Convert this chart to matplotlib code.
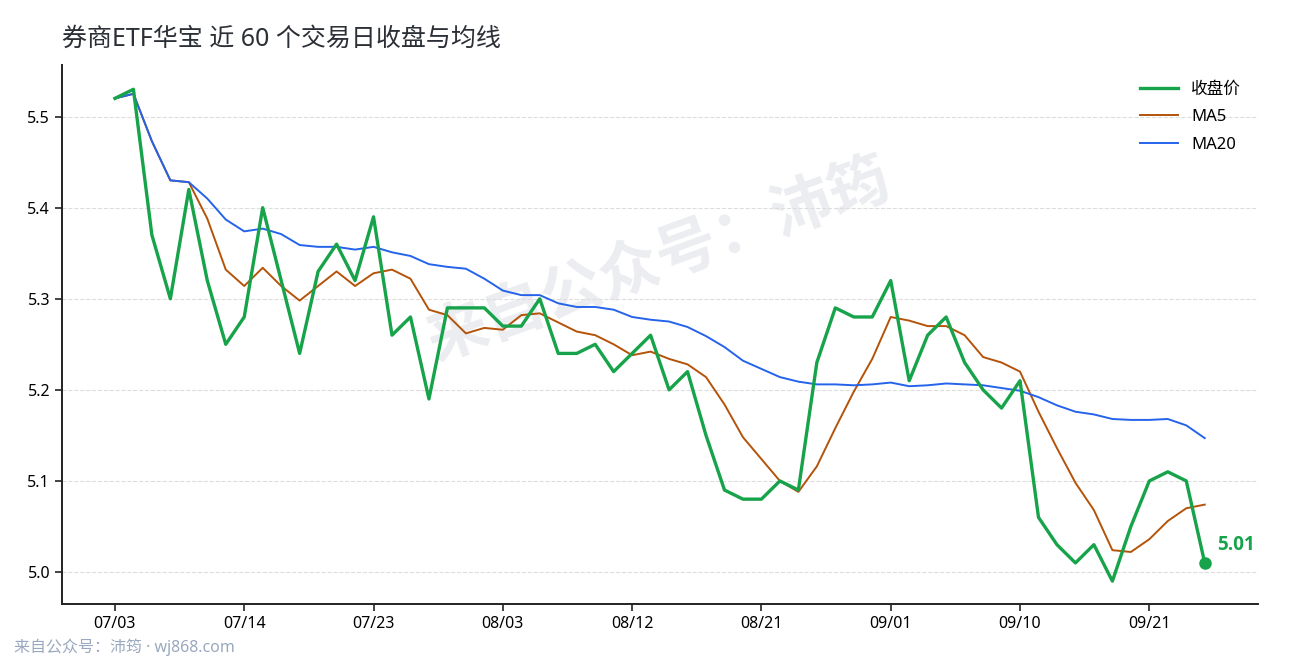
import matplotlib
matplotlib.use("Agg")
import matplotlib.pyplot as plt
import numpy as np

plt.rcParams['font.family'] = ['Noto Sans', 'Noto Sans CJK SC', 'DejaVu Sans']

# data
dates = ["07/03", "07/14", "07/23", "08/03", "08/12", "08/21", "09/01", "09/10", "09/21"]
tick_step = 7

close = [5.52, 5.53, 5.37, 5.30, 5.42, 5.32, 5.25, 5.28, 5.40, 5.32,
         5.24, 5.33, 5.36, 5.32, 5.39, 5.26, 5.28, 5.19, 5.29, 5.29,
         5.29, 5.27, 5.27, 5.30, 5.24, 5.24, 5.25, 5.22, 5.24, 5.26,
         5.20, 5.22, 5.15, 5.09, 5.08, 5.08, 5.10, 5.09, 5.23, 5.29,
         5.28, 5.28, 5.32, 5.21, 5.26, 5.28, 5.23, 5.20, 5.18, 5.21,
         5.06, 5.03, 5.01, 5.03, 4.99, 5.05, 5.10, 5.11, 5.10, 5.01]

ma5 = [5.520, 5.525, 5.473, 5.430, 5.428, 5.388, 5.332, 5.314, 5.334, 5.314,
       5.298, 5.314, 5.330, 5.314, 5.328, 5.332, 5.322, 5.288, 5.282, 5.262,
       5.268, 5.266, 5.282, 5.284, 5.274, 5.264, 5.260, 5.250, 5.238, 5.242,
       5.234, 5.228, 5.214, 5.184, 5.148, 5.124, 5.100, 5.088, 5.116, 5.158,
       5.198, 5.234, 5.280, 5.276, 5.270, 5.270, 5.260, 5.236, 5.230, 5.220,
       5.176, 5.136, 5.098, 5.068, 5.024, 5.022, 5.036, 5.056, 5.070, 5.074]

ma20 = [5.520, 5.525, 5.473, 5.430, 5.428, 5.410, 5.387, 5.374, 5.377, 5.371,
        5.359, 5.357, 5.357, 5.354, 5.357, 5.351, 5.347, 5.338, 5.335, 5.333,
        5.322, 5.309, 5.304, 5.304, 5.295, 5.291, 5.291, 5.288, 5.280, 5.277,
        5.275, 5.269, 5.259, 5.247, 5.232, 5.223, 5.214, 5.209, 5.206, 5.206,
        5.205, 5.206, 5.208, 5.204, 5.205, 5.207, 5.206, 5.205, 5.202, 5.199,
        5.192, 5.183, 5.176, 5.173, 5.168, 5.167, 5.167, 5.168, 5.161, 5.147]

green = "#16a34a"
orange = "#b45309"
blue = "#2563eb"

x = np.arange(len(close))

fig = plt.figure(figsize=(12.9, 6.6), dpi=100)
ax = fig.add_axes([0.048, 0.085, 0.927, 0.817])

ax.text(0.5, 0.635, "来自公众号：沛筠", transform=ax.transAxes, fontsize=44,
        fontweight="bold", color="#e9ebf0", alpha=0.9, rotation=20,
        ha="center", va="center", zorder=0, family="Noto Sans CJK SC")

ax.plot(x, close, color=green, lw=2.4, label="收盘价", zorder=4)
ax.plot(x, ma5, color=orange, lw=1.4, label="MA5", zorder=2)
ax.plot(x, ma20, color=blue, lw=1.4, label="MA20", zorder=3)

ax.plot(x[-1], close[-1], "o", color=green, ms=8, zorder=5)
ax.annotate(f"{close[-1]:.2f}", (x[-1], close[-1]), xytext=(9, 6),
            textcoords="offset points", color=green, fontsize=13.5,
            fontweight="bold", va="bottom", ha="left",
            family=["Open Sans", "DejaVu Sans"])

ax.set_xlim(-2.87, 61.87)
ax.set_ylim(4.965, 5.557)
ax.set_yticks([5.0, 5.1, 5.2, 5.3, 5.4, 5.5])
ax.set_xticks(x[::tick_step])
ax.set_xticklabels(dates)
ax.tick_params(labelsize=11.5, length=5, width=1.2, color="#222222")
ax.grid(axis="y", ls="--", color="#dddddd", lw=0.8)
ax.set_axisbelow(True)
for s in ["top", "right"]:
    ax.spines[s].set_visible(False)
for s in ["left", "bottom"]:
    ax.spines[s].set_linewidth(1.4)
    ax.spines[s].set_color("#222222")

ax.legend(loc="upper right", frameon=False, fontsize=12, handlelength=2.3,
          labelspacing=0.7, borderaxespad=0.6)

fig.text(0.048, 0.922, "券商ETF华宝 近 60 个交易日收盘与均线", fontsize=18,
         color="#2b2f36", ha="left", va="bottom")
fig.text(0.011, 0.006, "来自公众号：沛筠 · wj868.com", fontsize=11.5,
         color="#9aa8bf", ha="left", va="bottom")

fig.savefig("out.png", dpi=100)
plt.close(fig)
